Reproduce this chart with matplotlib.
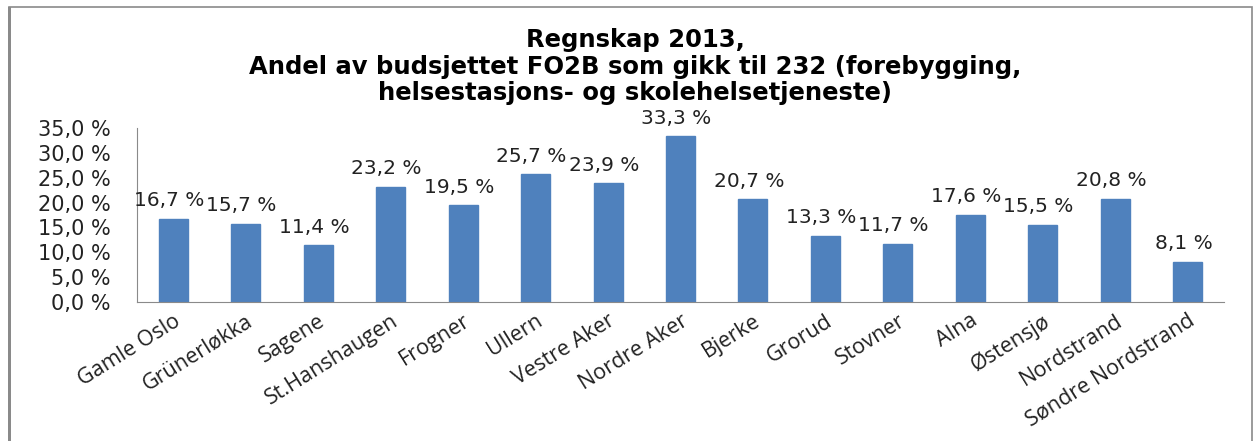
import matplotlib
matplotlib.use("Agg")
import matplotlib.pyplot as plt
from matplotlib.patches import Rectangle
from matplotlib.ticker import FuncFormatter

categories = ["Gamle Oslo", "Grünerløkka", "Sagene", "St.Hanshaugen", "Frogner",
              "Ullern", "Vestre Aker", "Nordre Aker", "Bjerke", "Grorud",
              "Stovner", "Alna", "Østensjø", "Nordstrand", "Søndre Nordstrand"]
values = [16.7, 15.7, 11.4, 23.2, 19.5, 25.7, 23.9, 33.3, 20.7, 13.3,
          11.7, 17.6, 15.5, 20.8, 8.1]
yticks = [0, 5, 10, 15, 20, 25, 30, 35]
title_lines = ["Regnskap 2013,",
               "Andel av budsjettet FO2B som gikk til 232 (forebygging,",
               "helsestasjons- og skolehelsetjeneste)"]
caption = "Figur 60: Regnskap 2013 \u2013 andel av budsjett FO2B"

W, H = 1257, 441
fig = plt.figure(figsize=(W / 100, H / 100), dpi=100)
fig.patch.set_facecolor("white")

# outer chart frame
fig.patches.append(Rectangle((9 / W, -0.05), (1252 - 9) / W, (H - 7) / H + 0.05,
                             transform=fig.transFigure, fill=False,
                             edgecolor="#8a8a8a", linewidth=1.2))
fig.patches.append(Rectangle((8 / W, -0.05), 2.5 / W, (H - 7) / H + 0.05,
                             transform=fig.transFigure, fill=True,
                             facecolor="#8a8a8a", edgecolor="none"))

# caption of the page, only its lower part visible at the very top
fig.text(5 / W, 1 + 9 / H, caption, fontsize=16, family="Liberation Serif",
         ha="left", va="center", color="black")

ax_left, ax_right, ax_top, ax_bottom = 137, 1224, 128, 302
ax = fig.add_axes([ax_left / W, 1 - ax_bottom / H,
                   (ax_right - ax_left) / W, (ax_bottom - ax_top) / H])

x = list(range(len(categories)))
ax.bar(x, values, width=0.4, color="#4f81bd", edgecolor="#4f81bd", zorder=2)
ax.set_xlim(-0.5, len(categories) - 0.5)
ax.set_ylim(0, 35)
ax.set_yticks(yticks)
ax.yaxis.set_major_formatter(FuncFormatter(lambda v, p: f"{v:.1f}".replace(".", ",") + " %"))
for lab in ax.get_yticklabels():
    lab.set_fontsize(15)
    lab.set_family("DejaVu Sans")
    lab.set_color("#222222")
ax.tick_params(axis="y", length=0, pad=19)
ax.tick_params(axis="x", length=0, pad=6)

ax.set_xticks(x)
ax.set_xticklabels(categories, rotation=32, ha="right", rotation_mode="anchor",
                   fontsize=15.5, family="Open Sans", color="#222222")

for s in ["top", "right"]:
    ax.spines[s].set_visible(False)
ax.spines["left"].set_color("#8a8a8a")
ax.spines["bottom"].set_color("#8a8a8a")

for xi, v in zip(x, values):
    ax.annotate(f"{v:.1f}".replace(".", ",") + " %", (xi, v), xytext=(-3, 9),
                textcoords="offset points", ha="center", va="baseline",
                fontsize=14.5, family="DejaVu Sans", color="#222222")

for yy, line in zip([40, 67, 93], title_lines):
    fig.text(635 / W, 1 - yy / H, line, ha="center", va="center", fontsize=17.5,
             fontweight="bold", family="DejaVu Sans", color="black")

fig.savefig("out.png", dpi=100)
